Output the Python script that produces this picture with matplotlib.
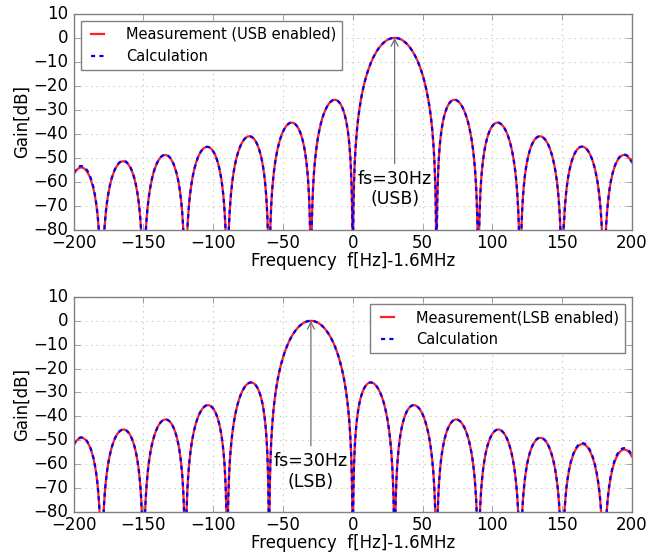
import numpy as np
import matplotlib
matplotlib.use("Agg")
import matplotlib.pyplot as plt

plt.style.use("classic")
plt.rcParams["font.family"] = ["DejaVu Sans"]
plt.rcParams["figure.facecolor"] = "white"
plt.rcParams["savefig.facecolor"] = "white"

# Frequency offsets (Hz) from the 1.6 MHz carrier
freq_min, freq_max = -200, 200
lobe_spacing = 30

# Upper sideband: null frequencies bounding each lobe, and lobe peak levels (dB)
usb_center = 30
usb_nulls = [-210, -180, -150, -120, -90, -60, -30, 0, 60, 90, 120, 150, 180, 210]
usb_meas_peaks = [-54.0, -51.4, -48.8, -45.4, -41.0, -35.3, -25.8, 0.0,
                  -25.8, -35.3, -41.0, -45.3, -48.8]
usb_calc_peaks = [-53.4, -51.2, -48.7, -45.4, -41.0, -35.3, -25.8, 0.0,
                  -25.8, -35.3, -41.0, -45.3, -48.6]

# Lower sideband
lsb_center = -30
lsb_nulls = [-210, -180, -150, -120, -90, -60, 0, 30, 60, 90, 120, 150, 180, 210]
lsb_meas_peaks = [-49.0, -45.5, -41.3, -35.3, -25.8, 0.0, -25.8, -35.3,
                  -41.3, -45.5, -49.0, -51.6, -53.9]
lsb_calc_peaks = [-48.8, -45.5, -41.3, -35.3, -25.8, 0.0, -25.8, -35.3,
                  -41.3, -45.5, -48.9, -51.2, -53.3]

y_ticks = [10, 0, -10, -20, -30, -40, -50, -60, -70, -80]
x_ticks = [-200, -150, -100, -50, 0, 50, 100, 150, 200]


def lobe_curve(nulls, peaks, center):
    """Build a gain trace from per-lobe peak levels, each lobe shaped like
    a sinc^2 response between its two nulls."""
    fs, gs = [], []
    for a, b, peak in zip(nulls[:-1], nulls[1:], peaks):
        f = np.linspace(a, b, 600)
        u = (f - center) / lobe_spacing
        g = np.abs(np.sinc(u))
        g = g / g.max()
        with np.errstate(divide="ignore"):
            db = peak + 40 * np.log10(g)
        db = np.clip(db, -150, None)
        fs.append(f)
        gs.append(db)
    return np.concatenate(fs), np.concatenate(gs)


fig = plt.figure(figsize=(6.7, 5.54), dpi=100)
ax1 = fig.add_axes([0.110, 0.585, 0.833, 0.390])
ax2 = fig.add_axes([0.110, 0.076, 0.833, 0.388])

panels = [
    (ax1, usb_nulls, usb_meas_peaks, usb_calc_peaks, usb_center,
     "Measurement (USB enabled)", "fs=30Hz\n(USB)", "upper left"),
    (ax2, lsb_nulls, lsb_meas_peaks, lsb_calc_peaks, lsb_center,
     "Measurement(LSB enabled)", "fs=30Hz\n(LSB)", "upper right"),
]

for ax, nulls, meas, calc, center, mlabel, note, loc in panels:
    fm, gm = lobe_curve(nulls, meas, center)
    fc, gc = lobe_curve(nulls, calc, center)
    ax.plot(fm, gm, color="#ff2020", lw=1.6, label=mlabel)
    ax.plot(fc, gc, color="#0000ff", lw=1.6, ls="--", dashes=(3, 3),
            label="Calculation")
    ax.set_xlim(freq_min, freq_max)
    ax.set_ylim(-80, 10)
    ax.set_xticks(x_ticks)
    ax.set_yticks(y_ticks)
    ax.grid(True, color="#c8c8c8", ls=":", lw=0.8)
    ax.set_axisbelow(True)
    for s in ax.spines.values():
        s.set_edgecolor("#808080")
    ax.tick_params(direction="in", color="#808080", labelsize=12,
                   top=True, right=True)
    ax.tick_params(axis="x", pad=3)
    ax.set_ylabel("Gain[dB]", fontsize=12, labelpad=2)
    ax.set_xlabel("Frequency  f[Hz]-1.6MHz", fontsize=12, labelpad=0)
    ax.annotate(note, xy=(center, 0), xytext=(center, -63),
                ha="center", va="center", fontsize=12.5,
                arrowprops=dict(arrowstyle="->", color="#707070", lw=0.9,
                                shrinkA=2, shrinkB=0))
    leg = ax.legend(loc=loc, fontsize=10.5, handlelength=1.5,
                    borderaxespad=0.5, labelspacing=0.5, handletextpad=1.2)
    leg.get_frame().set_edgecolor("#808080")

fig.savefig("out.png", dpi=100)
